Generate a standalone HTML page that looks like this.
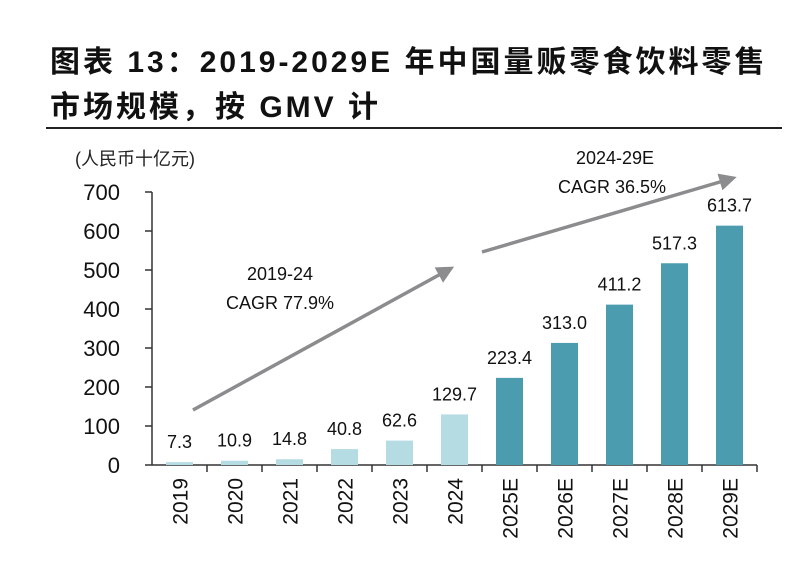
<!DOCTYPE html>
<html><head><meta charset="utf-8"><style>
body{margin:0;background:#fff;width:800px;height:564px;overflow:hidden;font-family:"Liberation Sans","Noto Sans CJK SC",sans-serif}
.t{position:absolute;left:50px;font-size:30px;font-weight:bold;color:#111;letter-spacing:3px;font-family:"Liberation Sans","Noto Sans CJK SC",sans-serif;white-space:nowrap}
</style></head><body>
<div class="t" style="top:37px">图表 13：2019-2029E 年中国量贩零食饮料零售</div>
<div class="t" style="top:82px">市场规模，按 GMV 计</div>
<div style="position:absolute;left:46px;top:127px;width:736px;height:2px;background:#222"></div>
<svg id="c" width="800" height="564" style="position:absolute;left:0;top:0">
<defs><marker id="ah" markerWidth="5" markerHeight="5" refX="3" refY="2.5" orient="auto"><path d="M0,0L5,2.5L0,5z" fill="#8c8c8f"/></marker></defs>
</svg>
<script>
const categories=["2019","2020","2021","2022","2023","2024","2025E","2026E","2027E","2028E","2029E"];
const values=[7.3,10.9,14.8,40.8,62.6,129.7,223.4,313.0,411.2,517.3,613.7];
const valueLabels=["7.3","10.9","14.8","40.8","62.6","129.7","223.4","313.0","411.2","517.3","613.7"];
const yTicks=[0,100,200,300,400,500,600,700];
const svg=document.getElementById('c');const NS='http://www.w3.org/2000/svg';
const x0=152,x1=757,yb=465,yt=192,ymax=700;
const bw=(x1-x0)/categories.length;
const y=v=>yb-(v/ymax)*(yb-yt);
const xc=i=>x0+bw*(i+0.5);
function mk(t,a,txt){const e=document.createElementNS(NS,t);for(const k in a)e.setAttribute(k,a[k]);if(txt!==undefined)e.textContent=txt;svg.appendChild(e);return e;}
let e=mk('text',{x:75,y:165,'font-size':18,fill:'#222','font-family':'"Liberation Sans","Noto Sans CJK SC",sans-serif'},'(人民币十亿元)');


e=mk('line',{x1:x0,y1:yt,x2:x0,y2:yb,stroke:'#333','stroke-width':1.5});


yTicks.forEach(v=>{
 let l=mk('line',{x1:x0-7,y1:y(v),x2:x0,y2:y(v),stroke:'#333','stroke-width':1.5});
 
 
 let t=mk('text',{x:120,y:y(v)+8,'font-size':22,'text-anchor':'end',fill:'#111'},String(v));
 
 
});
e=mk('line',{x1:x0,y1:yb,x2:x1,y2:yb,stroke:'#333','stroke-width':1.5});


categories.forEach((c,i)=>{
 const xx=x0+bw*(i+1);
 let tk=mk('line',{x1:xx,y1:yb,x2:xx,y2:yb+7,stroke:'#333','stroke-width':1.5});
 
 
 const dark=i>=6;
 let r=mk('rect',{x:xc(i)-13.5,y:y(values[i]),width:27,height:yb-y(values[i]),fill:dark?'#4a9cae':'#b5dbe3'});
 
 
 let vl=mk('text',{x:xc(i),y:y(values[i])-14,'font-size':18,'text-anchor':'middle',fill:'#111'},valueLabels[i]);
 
 
 let xl=mk('text',{x:0,y:0,'font-size':21,'text-anchor':'end',fill:'#111',transform:`translate(${xc(i)+8},${yb+13}) rotate(-90)`},c);
 
 
});
e=mk('line',{x1:193,y1:410,x2:448,y2:270,stroke:'#8c8c8f','stroke-width':3.5,'marker-end':'url(#ah)'});


e=mk('line',{x1:482,y1:252,x2:730,y2:179,stroke:'#8c8c8f','stroke-width':3.5,'marker-end':'url(#ah)'});


[[280,280,'2019-24'],[280,309,'CAGR 77.9%'],[615,164,'2024-29E'],[612,193,'CAGR 36.5%']].forEach(a=>{
 let t=mk('text',{x:a[0],y:a[1],'font-size':18,'text-anchor':'middle',fill:'#111'},a[2]);
 
 
});
</script>
</body></html>
